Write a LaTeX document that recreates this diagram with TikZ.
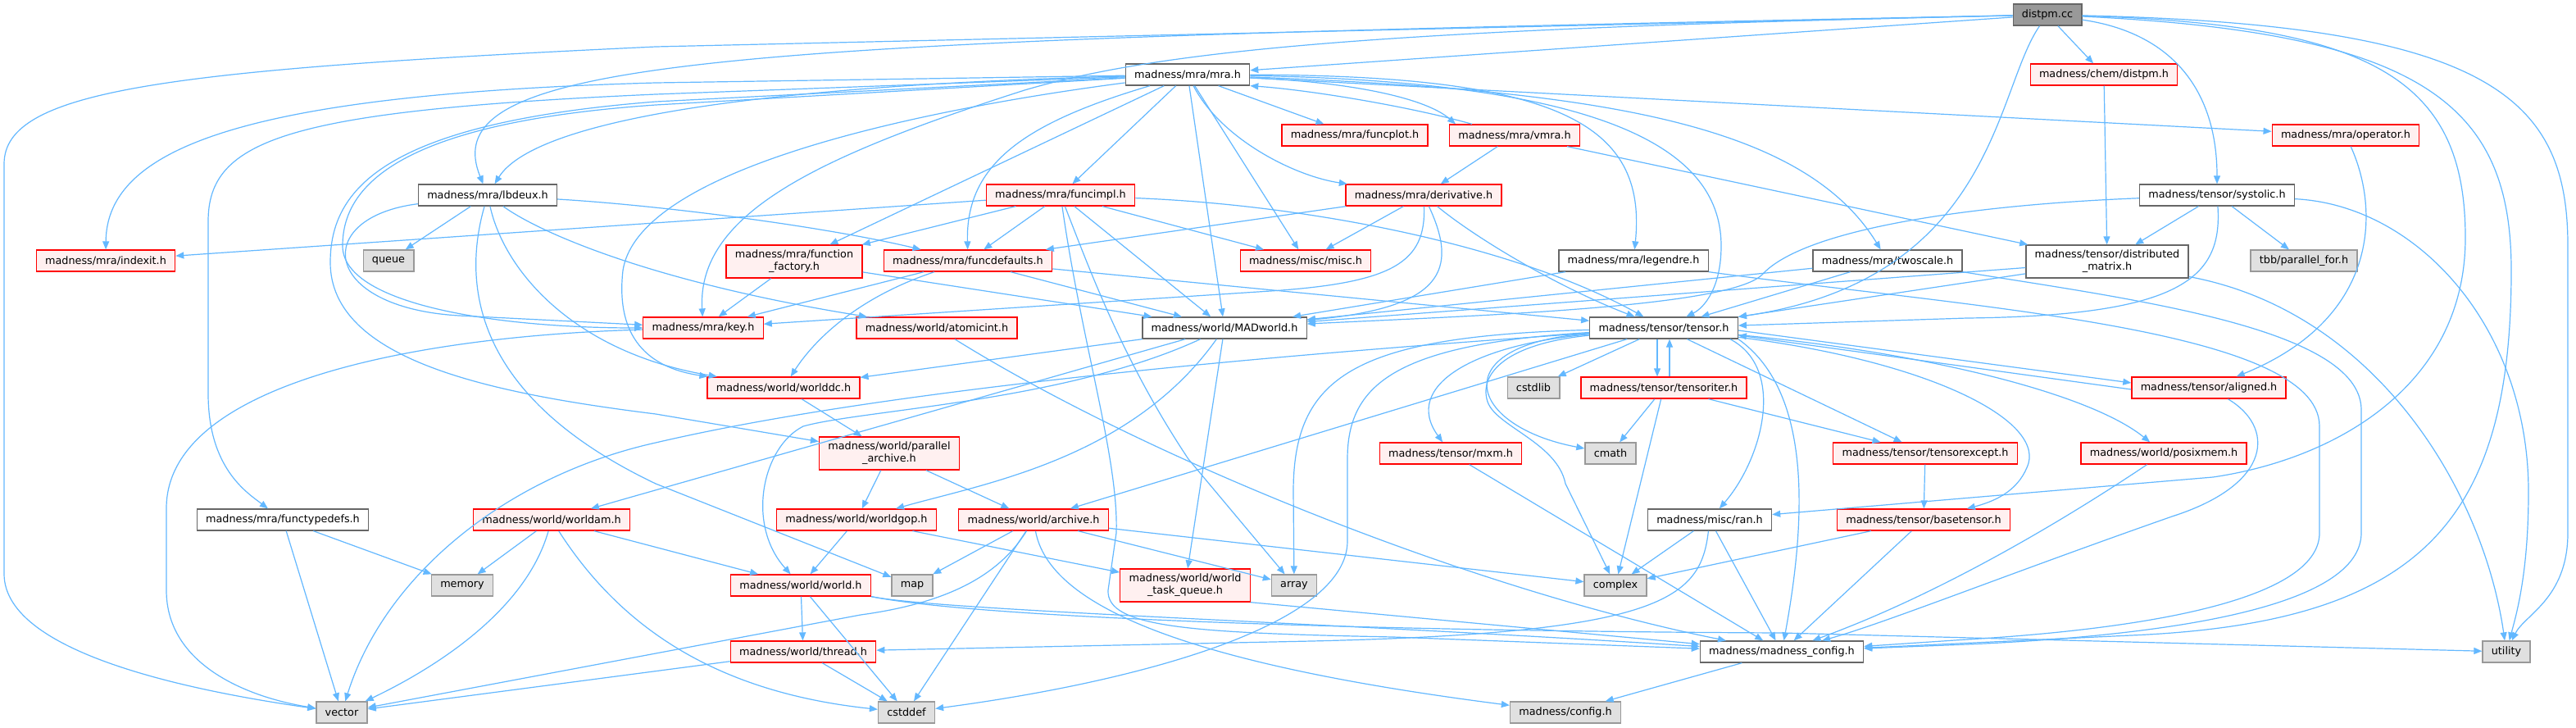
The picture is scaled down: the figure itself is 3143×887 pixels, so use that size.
\documentclass[tikz,border=0pt]{standalone}
\usepackage{fontspec}
\setmainfont{DejaVu Sans}
\usetikzlibrary{arrows.meta}
\definecolor{depc}{HTML}{63B8FF}
\definecolor{redfill}{HTML}{FFF0F0}
\definecolor{grayfill}{HTML}{E0E0E0}
\definecolor{grayline}{HTML}{999999}
\definecolor{darkline}{HTML}{666666}
\definecolor{rootfill}{HTML}{999999}
\begin{document}
\begin{tikzpicture}[x=1pt,y=-1pt,
  box/.style={line width=1.3pt, inner xsep=10.8pt, inner ysep=0pt, minimum height=26pt,
    font=\fontsize{12.8pt}{15pt}\selectfont, align=center, text=black},
  redbox/.style={box, draw=red, fill=redfill},
  whitebox/.style={box, draw=darkline, fill=white},
  graybox/.style={box, draw=grayline, fill=grayfill},
  rootbox/.style={box, draw=darkline, fill=rootfill},
  tall/.style={minimum height=40pt},
  dep/.style={draw=depc, line width=1.2pt, -{Triangle[length=10pt,width=8pt]}}]
\fill[white] (0,0) rectangle (3143,887);
\useasboundingbox (0,0) rectangle (3143,887);

% nodes
\node[rootbox] (root) at (2498,18) {distpm.cc};
\node[whitebox] (mra) at (1449,91) {madness/mra/mra.h};
\node[redbox] (chemdistpm) at (2567,91) {madness/chem/distpm.h};
\node[redbox] (funcplot) at (1653,165) {madness/mra/funcplot.h};
\node[redbox] (vmra) at (1848,165) {madness/mra/vmra.h};
\node[redbox] (operator) at (2862,165) {madness/mra/operator.h};
\node[whitebox] (lbdeux) at (595,238) {madness/mra/lbdeux.h};
\node[redbox] (funcimpl) at (1294,238) {madness/mra/funcimpl.h};
\node[redbox] (derivative) at (1737,238) {madness/mra/derivative.h};
\node[whitebox] (systolic) at (2705,238) {madness/tensor/systolic.h};
\node[redbox] (indexit) at (129,318) {madness/mra/indexit.h};
\node[graybox] (queue) at (474,318) {queue};
\node[redbox,tall] (ffactory) at (969,319) {madness/mra/function\\\_factory.h};
\node[redbox] (funcdefaults) at (1181,318) {madness/mra/funcdefaults.h};
\node[redbox] (misc) at (1593,318) {madness/misc/misc.h};
\node[whitebox] (legendre) at (1993,318) {madness/mra/legendre.h};
\node[whitebox] (twoscale) at (2303,318) {madness/mra/twoscale.h};
\node[whitebox,tall] (distmat) at (2571,319) {madness/tensor/distributed\\\_matrix.h};
\node[graybox] (tbb) at (2811,318) {tbb/parallel\_for.h};
\node[redbox] (key) at (858,400) {madness/mra/key.h};
\node[redbox] (atomicint) at (1143,400) {madness/world/atomicint.h};
\node[whitebox] (madworld) at (1494,400) {madness/world/MADworld.h};
\node[whitebox] (tensor) at (2030,400) {madness/tensor/tensor.h};
\node[redbox] (worlddc) at (956,473) {madness/world/worlddc.h};
\node[graybox] (cstdlib) at (1871,473) {cstdlib};
\node[redbox] (tensoriter) at (2030,473) {madness/tensor/tensoriter.h};
\node[redbox] (aligned) at (2695,473) {madness/tensor/aligned.h};
\node[redbox,tall] (parchive) at (1085,553) {madness/world/parallel\\\_archive.h};
\node[redbox] (mxm) at (1770,553) {madness/tensor/mxm.h};
\node[graybox] (cmath) at (1965,553) {cmath};
\node[redbox] (tensorexcept) at (2349,553) {madness/tensor/tensorexcept.h};
\node[redbox] (posixmem) at (2640,553) {madness/world/posixmem.h};
\node[whitebox] (functypedefs) at (345,634) {madness/mra/functypedefs.h};
\node[redbox] (worldam) at (673,634) {madness/world/worldam.h};
\node[redbox] (worldgop) at (1045,634) {madness/world/worldgop.h};
\node[redbox] (archive) at (1261,634) {madness/world/archive.h};
\node[whitebox] (ran) at (2086,634) {madness/misc/ran.h};
\node[redbox] (basetensor) at (2347,634) {madness/tensor/basetensor.h};
\node[graybox] (memory) at (564,714) {memory};
\node[redbox] (world) at (977,714) {madness/world/world.h};
\node[graybox] (map) at (1113,714) {map};
\node[redbox,tall] (wtq) at (1446,714) {madness/world/world\\\_task\_queue.h};
\node[graybox] (array) at (1579,714) {array};
\node[graybox] (complex) at (1971,714) {complex};
\node[redbox] (thread) at (980,795) {madness/world/thread.h};
\node[whitebox] (mconfig) at (2174,795) {madness/madness\_config.h};
\node[graybox] (utility) at (3058,795) {utility};
\node[graybox] (vector) at (417,869) {vector};
\node[graybox] (cstddef) at (1106,869) {cstddef};
\node[graybox] (config) at (1910,869) {madness/config.h};

% root
\draw[dep] (root) -- (mra);
\draw[dep] (root) -- (chemdistpm);
\draw[dep] (root) .. controls (2650,40) and (2705,110) .. (systolic);
\draw[dep] (root) .. controls (2434,110) and (2434,340) .. (tensor);
\draw[dep] (root) .. controls (900,50) and (525,65) .. (lbdeux);
\draw[dep] (root) .. controls (1700,35) and (1420,60) .. (1250,110) .. controls (1000,190) and (850,260) .. (key);
\draw[dep] (root) -- (800,57) .. controls (200,85) and (5,110) .. (5,200) -- (5,700) .. controls (5,800) and (250,845) .. (vector);
\draw[dep] (root) .. controls (2900,30) and (3008,100) .. (3008,290) .. controls (3008,470) and (2850,560) .. (2700,582) -- (ran);
\draw[dep] (root) .. controls (2960,40) and (3064,130) .. (3064,330) .. controls (3064,640) and (2950,760) .. (2600,775) -- (mconfig);
\draw[dep] (root) .. controls (3040,30) and (3133,120) .. (3133,300) -- (3133,650) .. controls (3133,730) and (3080,750) .. (utility);

% mra
\draw[dep] (mra) -- (funcplot);
\draw[dep] ([yshift=-4pt]mra.east) .. controls (1650,100) and (1740,120) .. ([xshift=-72pt]vmra.north);
\draw[dep] ([xshift=-52pt]vmra.north) .. controls (1720,130) and (1600,110) .. (mra.south east);
\draw[dep] (mra) -- (operator);
\draw[dep] (mra) -- (funcimpl);
\draw[dep] (mra) .. controls (1490,170) and (1580,215) .. (derivative);
\draw[dep] (mra) .. controls (900,105) and (650,150) .. (lbdeux);
\draw[dep] (mra) -- (800,101) .. controls (300,115) and (130,180) .. (indexit);
\draw[dep] (mra) -- (800,115) .. controls (350,135) and (254,170) .. (254,270) -- (254,480) .. controls (254,570) and (300,600) .. (functypedefs);
\draw[dep] (mra) -- (800,128) .. controls (480,150) and (418,230) .. (418,300) .. controls (418,370) and (600,400) .. (key);
\draw[dep] (mra) -- (800,124) .. controls (470,150) and (403,230) .. (403,320) .. controls (403,440) and (600,480) .. (800,505) -- (parchive);
\draw[dep] (mra) -- (ffactory);
\draw[dep] (mra) .. controls (1250,150) and (1178,200) .. (funcdefaults);
\draw[dep] (mra) -- (misc);
\draw[dep] (mra) .. controls (1900,92) and (2010,150) .. (legendre);
\draw[dep] (mra) .. controls (1980,100) and (2100,190) .. (2100,300) .. controls (2100,350) and (2080,375) .. (tensor);
\draw[dep] (mra) .. controls (1950,110) and (2200,150) .. (twoscale);
\draw[dep] (mra) -- (madworld);
\draw[dep] (mra) .. controls (1150,130) and (780,200) .. (760,330) .. controls (750,420) and (800,450) .. (worlddc);

% vmra, chem, operator, systolic
\draw[dep] (vmra) -- (derivative);
\draw[dep] (vmra) -- (distmat);
\draw[dep] (chemdistpm) -- (distmat);
\draw[dep] (operator) .. controls (2905,260) and (2900,390) .. (aligned);
\draw[dep] (systolic) -- (distmat);
\draw[dep] (systolic) -- (tbb);
\draw[dep] (systolic) .. controls (2712,340) and (2660,385) .. (2400,388) -- (tensor);
\draw[dep] (systolic) .. controls (2400,250) and (2200,280) .. (2150,335) .. controls (2110,375) and (1800,385) .. (madworld);
\draw[dep] (systolic) .. controls (2950,250) and (3085,400) .. (3085,600) .. controls (3085,700) and (3070,750) .. (utility);

% lbdeux
\draw[dep] (lbdeux) -- (queue);
\draw[dep] (lbdeux) .. controls (380,265) and (390,375) .. (560,385) -- (key);
\draw[dep] (lbdeux) .. controls (615,330) and (700,430) .. (worlddc);
\draw[dep] (lbdeux) .. controls (660,285) and (800,345) .. (atomicint);
\draw[dep] (lbdeux) .. controls (560,360) and (590,490) .. (800,590) -- (map);
\draw[dep] (lbdeux) .. controls (800,250) and (1000,275) .. (funcdefaults);

% function_factory, funcimpl
\draw[dep] (ffactory) -- (key);
\draw[dep] (ffactory) -- (madworld);
\draw[dep] (funcimpl) -- (ffactory);
\draw[dep] (funcimpl) -- (funcdefaults);
\draw[dep] (funcimpl) -- (indexit);
\draw[dep] (funcimpl) -- (madworld);
\draw[dep] (funcimpl) .. controls (1600,250) and (1850,300) .. (tensor);
\draw[dep] (funcimpl) -- (misc);
\draw[dep] (funcimpl) .. controls (1330,330) and (1370,440) .. (1450,560) -- (array);
\draw[dep] (funcimpl) .. controls (1320,420) and (1365,560) .. (1362,650) -- (1352,720) .. controls (1350,765) and (1450,772) .. (1700,777) -- (mconfig);

% funcdefaults
\draw[dep] (funcdefaults) -- (key);
\draw[dep] (funcdefaults) -- (madworld);
\draw[dep] (funcdefaults) -- (tensor);
\draw[dep] (funcdefaults) .. controls (1040,365) and (990,420) .. (worlddc);

% derivative
\draw[dep] (derivative) -- (funcdefaults);
\draw[dep] (derivative) -- (misc);
\draw[dep] (derivative) .. controls (1740,320) and (1700,345) .. (1550,355) -- (key);
\draw[dep] (derivative) .. controls (1780,330) and (1760,375) .. (madworld);
\draw[dep] (derivative) .. controls (1800,290) and (1900,350) .. (tensor);

% legendre, twoscale, distributed_matrix
\draw[dep] (legendre) -- (madworld);
\draw[dep] (legendre.south east) .. controls (2400,375) and (2830,400) .. (2830,520) -- (2830,650) .. controls (2830,725) and (2650,765) .. (2400,780) -- (mconfig);
\draw[dep] (twoscale) -- (madworld);
\draw[dep] (twoscale) -- (tensor);
\draw[dep] (twoscale.south east) .. controls (2600,365) and (2881,400) .. (2881,500) -- (2881,650) .. controls (2881,740) and (2650,775) .. (2400,786) -- (mconfig);
\draw[dep] (distmat) -- (madworld);
\draw[dep] (distmat) -- (tensor);
\draw[dep] (distmat) .. controls (2900,380) and (3030,600) .. (utility);

% key, atomicint, MADworld
\draw[dep] (key) .. controls (500,410) and (203,470) .. (203,620) -- (203,720) .. controls (203,810) and (300,850) .. (vector);
\draw[dep] (atomicint) .. controls (1400,560) and (1800,720) .. (mconfig);
\draw[dep] (madworld) -- (worlddc);
\draw[dep] (madworld) -- (worldam);
\draw[dep] (madworld) .. controls (1380,560) and (1200,590) .. (worldgop);
\draw[dep] (madworld) .. controls (1300,490) and (1050,500) .. (980,520) .. controls (930,545) and (910,640) .. (world);
\draw[dep] (madworld) -- (wtq);

% world layer
\draw[dep] (worlddc) -- (parchive);
\draw[dep] (parchive) -- (archive);
\draw[dep] (parchive) -- (worldgop);
\draw[dep] (functypedefs) -- (vector);
\draw[dep] (functypedefs) -- (memory);
\draw[dep] (worldam) -- (memory);
\draw[dep] (worldam) .. controls (640,750) and (520,820) .. (vector);
\draw[dep] (worldam) -- (world);
\draw[dep] (worldam) .. controls (760,770) and (880,845) .. (cstddef);
\draw[dep] (worldgop) -- (world);
\draw[dep] (worldgop) -- (wtq);
\draw[dep] (archive) -- (map);
\draw[dep] (archive) -- (cstddef);
\draw[dep] (archive) -- (array);
\draw[dep] (archive) -- (complex);
\draw[dep] (archive) .. controls (1220,700) and (1160,735) .. (1050,750) -- (vector);
\draw[dep] (archive) .. controls (1280,740) and (1450,810) .. (config);
\draw[dep] (world) -- (thread);
\draw[dep] (world) -- (cstddef);
\draw[dep] (world.south east) .. controls (1150,745) and (1600,758) .. (mconfig);
\draw[dep] (world.south east) .. controls (1200,755) and (1700,770) .. (2174,772) -- (utility);
\draw[dep] (wtq.south east) -- (mconfig);
\draw[dep] (thread) -- (cstddef);
\draw[dep] (thread) -- (vector);
\draw[dep] (ran) -- (complex);
\draw[dep] (ran) -- (mconfig);
\draw[dep] (ran) .. controls (2075,730) and (2030,772) .. (1600,782) -- (thread);

% tensor layer
\draw[dep] ([xshift=-8pt]tensor.south) -- ([xshift=-8pt]tensoriter.north);
\draw[dep] ([xshift=7pt]tensoriter.north) -- ([xshift=7pt]tensor.south);
\draw[dep] (tensoriter) -- (cmath);
\draw[dep] (tensoriter) -- (complex);
\draw[dep] (tensoriter) -- (tensorexcept);
\draw[dep] (tensor) -- (cstdlib);
\draw[dep] (tensor) .. controls (1800,420) and (1710,470) .. (mxm);
\draw[dep] (tensor) .. controls (1760,420) and (1790,520) .. (cmath);
\draw[dep] (tensor) .. controls (1830,420) and (1805,460) .. (1815,490) .. controls (1825,520) and (1900,540) .. (1910,590) -- (complex);
\draw[dep] ([xshift=-10pt]tensor.south east) .. controls (2180,450) and (2150,560) .. (ran);
\draw[dep] (tensor.south east) .. controls (2200,470) and (2210,600) .. (mconfig);
\draw[dep] (tensor) -- (tensorexcept);
\draw[dep] ([yshift=-3pt]tensor.east) -- ([yshift=6pt]aligned.west);
\draw[dep] ([yshift=-2pt]aligned.west) -- ([yshift=-9pt]tensor.east);
\draw[dep] (tensor) .. controls (2350,430) and (2550,480) .. (posixmem);
\draw[dep] (tensor) .. controls (2350,440) and (2490,510) .. (2475,565) .. controls (2465,595) and (2440,610) .. (basetensor);
\draw[dep] (tensor) .. controls (1650,410) and (1578,460) .. (1578,600) -- (array);
\draw[dep] (tensor) .. controls (1700,420) and (1644,470) .. (1644,560) -- (1644,660) .. controls (1644,760) and (1400,830) .. (cstddef);
\draw[dep] (tensor) -- (archive);
\draw[dep] (tensor) .. controls (1600,430) and (1100,470) .. (800,540) .. controls (620,580) and (470,700) .. (vector);
\draw[dep] (aligned) .. controls (2775,520) and (2775,590) .. (2650,630) .. controls (2450,700) and (2300,760) .. (mconfig);
\draw[dep] (posixmem) .. controls (2540,620) and (2380,720) .. (mconfig);
\draw[dep] (basetensor) -- (complex);
\draw[dep] (basetensor) -- (mconfig);
\draw[dep] (tensorexcept) -- (basetensor);
\draw[dep] (mxm) -- (mconfig);
\draw[dep] (mconfig) -- (config);
\end{tikzpicture}
\end{document}
